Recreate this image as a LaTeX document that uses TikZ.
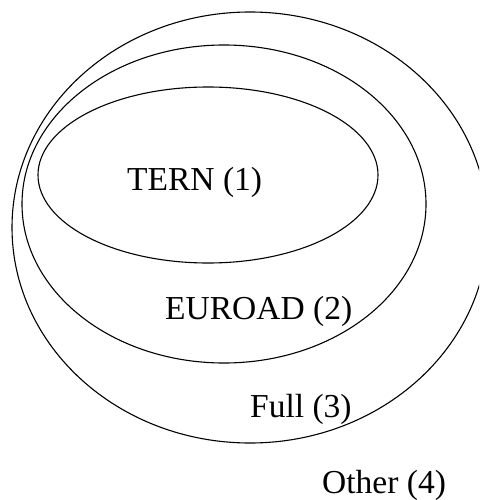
\documentclass[tikz,border=0pt]{standalone}
\usepackage{fontspec}
\setmainfont{Liberation Serif}
\begin{document}
\begin{tikzpicture}[x=1pt,y=-1pt,
  setline/.style={draw=black,line width=1.1pt},
  lbl/.style={anchor=base west,inner sep=0pt,font=\fontsize{33.5}{40}\selectfont}]
\useasboundingbox (0,0) rectangle (479,500);
\clip (0,0) rectangle (479,500);
\draw[setline] (250,227.5) ellipse [x radius=238, y radius=215.5];
\draw[setline] (224,204) ellipse [x radius=202, y radius=159];
\draw[setline] (208,175) ellipse [x radius=170, y radius=88];
\node[lbl] (tern) at (127,190) {TERN (1)};
\node[lbl] (euroad) at (165,319) {EUROAD (2)};
\node[lbl] (full) at (250,417) {Full (3)};
\node[lbl] (other) at (322,493) {Other (4)};
\end{tikzpicture}
\end{document}
